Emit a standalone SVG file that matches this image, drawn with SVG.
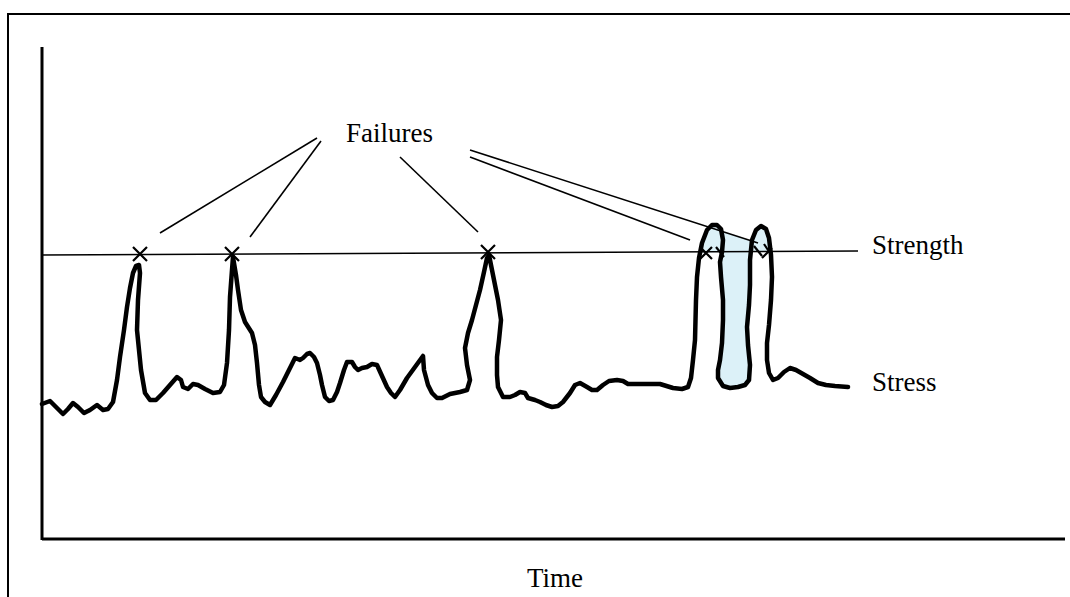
<svg xmlns="http://www.w3.org/2000/svg" width="1070" height="597" viewBox="0 0 1070 597">
<style>
.lbl{font-family:"Liberation Serif","Times New Roman",serif;font-size:27px;fill:#000}
.thin{stroke:#000;stroke-width:1.6;fill:none}
.axis{stroke:#000;stroke-width:3;fill:none}
.curve{stroke:#000;stroke-width:4.5;fill:none;stroke-linejoin:round;stroke-linecap:round}
.x{stroke:#000;stroke-width:2.2;fill:none}
.shade{fill:#dcf1f8;stroke:none}
</style>
<rect width="1070" height="597" fill="#fff"/>
<path d="M8,597 V14 H1070" fill="none" stroke="#000" stroke-width="2"/>
<g id="axes">
<path class="axis" d="M42,47 V540"/>
<path class="axis" d="M42,539 H1065"/>
</g>
<g id="shading">
<path class="shade" d="M722,232 L723,240 L722,252 L720,262 L721,277 L723,300 L723,320 L722,343 L720,360 L718,370 L718,378 L723,386 L730,388 L738,387 L745,385 L749,380 L750,365 L748,345 L747,327 L749,305 L750,285 L750,260 L752,241 Z"/>
<path class="shade" d="M699,253 L702,243 L707,230 L712,225 L717,225 L721,229 L723,240 L722,252 Z"/>
<path class="shade" d="M750,252 L752,240 L756,230 L761,226 L766,229 L769,238 L771,252 Z"/>
</g>
<g id="stress">
<path class="curve" d="M42,404 L50,401 L57,408 L63,414 L68,409 L73,403 L78,407 L84,413 L90,410 L97,405 L103,410 L108,409 L113,402 L117,380 L120,357 L124,330 L127,307 L130,288 L133,273 L136,266 L139,265 L140,273 L138,300 L137,330 L139,350 L141,370 L145,393 L150,400 L156,400 L163,393 L170,385 L177,377 L181,380 L183,387 L188,389 L193,384 L198,385 L205,389 L213,393 L220,392 L224,385 L227,363 L229,330 L230,297 L232,270 L233,257 L236,275 L238,290 L241,310 L245,322 L252,333 L255,345 L257,363 L259,385 L261,397 L265,402 L270,405 L276,395 L283,382 L290,368 L295,358 L300,360 L303,358 L307,354 L310,353 L314,357 L317,363 L320,375 L322,385 L325,397 L329,401 L333,400 L337,392 L340,383 L344,370 L347,362 L352,362 L355,367 L358,370 L362,368 L367,367 L372,364 L377,365 L382,376 L387,387 L391,393 L395,397 L400,390 L407,378 L415,367 L423,356 L424,370 L428,385 L432,393 L437,398 L442,398 L450,394 L460,392 L467,390 L470,380 L467,365 L465,348 L468,333 L472,320 L476,305 L480,290 L484,272 L487,258 L489,255 L492,270 L495,285 L498,300 L501,320 L499,340 L497,357 L497,375 L498,387 L503,397 L510,397 L515,395 L520,392 L525,393 L528,398 L535,400 L540,402 L546,405 L552,407 L558,406 L563,402 L570,393 L575,385 L580,383 L587,387 L592,390 L597,390 L603,385 L609,381 L617,380 L623,381 L628,384 L640,384 L650,384 L660,384 L673,388 L682,389 L688,387 L691,378 L693,360 L695,340 L696,300 L697,277 L699,258 L702,243 L707,230 L712,225 L717,225 L721,229 L723,240 L722,252 L720,262 L721,277 L723,300 L723,320 L722,343 L720,360 L718,370 L718,378 L723,386 L730,388 L738,387 L745,385 L749,380 L750,365 L748,345 L747,327 L749,305 L750,285 L750,260 L752,240 L756,230 L761,226 L766,229 L769,238 L771,255 L772,277 L771,300 L769,325 L767,343 L767,360 L769,373 L773,380 L778,378 L784,372 L790,368 L796,370 L803,374 L810,378 L818,383 L826,385 L835,386 L848,387"/>
</g>
<g id="strength">
<path class="thin" d="M42,255 L858,251"/>
</g>
<g id="failure-marks">
<path class="x" d="M133,247 L147,261 M147,247 L133,261"/>
<path class="x" d="M225,247 L239,261 M239,247 L225,261" stroke-width="3"/>
<path class="x" d="M481,245 L495,259 M495,245 L481,259"/>
<path class="x" d="M700,247 L712,259 M712,247 L700,259 M716,247 L724,257" stroke-width="1.6"/>
<path class="x" d="M754,246 L762,256 M764,244 L772,256 M772,248 L762,258" stroke-width="1.6"/>
</g>
<g id="connectors">
<path class="thin" d="M317,138 L160,233"/>
<path class="thin" d="M321,141 L250,237"/>
<path class="thin" d="M400,157 L478,232"/>
<path class="thin" d="M470,150 L758,243"/>
<path class="thin" d="M470,157 L690,240"/>
</g>
<g id="labels">
<text class="lbl" x="346" y="142">Failures</text>
<text class="lbl" x="872" y="254">Strength</text>
<text class="lbl" x="872" y="391">Stress</text>
<text class="lbl" x="527" y="587">Time</text>
</g>
</svg>
